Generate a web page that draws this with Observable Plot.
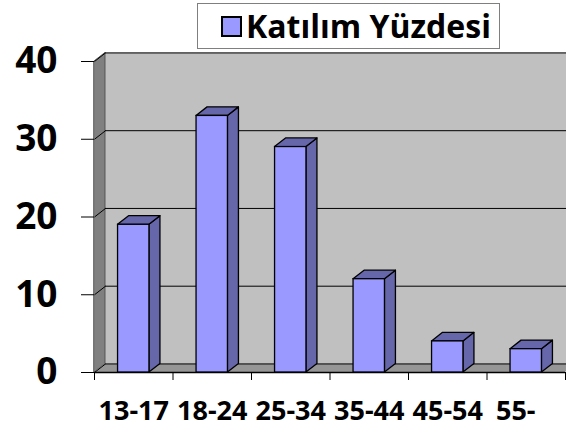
<!DOCTYPE html>
<html><head><meta charset="utf-8">
<script src="https://cdn.jsdelivr.net/npm/d3@7"></script>
<script src="https://cdn.jsdelivr.net/npm/@observablehq/plot@0.6"></script>
<style>
body{margin:0;overflow:hidden;background:#fff;font-family:"Open Sans",sans-serif}
#wrap{position:relative;width:566px;height:427px;overflow:hidden}
#legend{position:absolute;left:197px;top:3px;width:303px;height:46px;background:#fff;border:1px solid #7f7f7f;z-index:2;display:flex;align-items:center;box-sizing:border-box}
#legend .sw{width:17px;height:17px;background:#9999ff;border:2px solid #000;margin-left:23px;flex:none}
#legend .lb{font-weight:bold;font-size:32px;line-height:1;margin-left:4px;color:#000;white-space:nowrap}
</style></head>
<body><div id="wrap"></div>
<script>
const categories = ["13-17", "18-24", "25-34", "35-44", "45-54", "55-   "];
const values = [19, 33, 29, 12, 4, 3];
const yTicks = [0, 10, 20, 30, 40];
const seriesName = "Katılım Yüzdesi";

const N = categories.length;
const YMAX = yTicks[yTicks.length - 1];
const DX = 0.14, DY = 1.1;       // 3D depth (in data units)
const BL = 0.3, BR = 0.7;        // bar extent within band

const bars = categories.map((c, i) => ({c, i, v: values[i]}));
const sides = bars.flatMap(b => [
  {i: b.i, x: b.i + BR, y1: 0, y2: b.v},
  {i: b.i, x: b.i + BR + DX, y1: DY, y2: b.v + DY}
]);
const tops = bars.flatMap(b => [
  {i: b.i, y: b.v, x1: b.i + BL, x2: b.i + BR},
  {i: b.i, y: b.v + DY, x1: b.i + BL + DX, x2: b.i + BR + DX}
]);
const sideWall = [{x: 0, y1: 0, y2: YMAX}, {x: DX, y1: DY, y2: YMAX + DY}];
const floor = [{y: 0, x1: 0, x2: N}, {y: DY, x1: DX, x2: N + DX}];

const barFront = "#9999ff", barDark = "#6666aa";

const chart = Plot.plot({
  width: 566, height: 427,
  marginLeft: 94, marginRight: 1, marginTop: 61, marginBottom: 55,
  x: {type: "linear", domain: [0, N]},
  y: {domain: [0, YMAX]},
  style: {fontFamily: "'Open Sans', sans-serif", color: "#000", background: "transparent"},
  marks: [
    Plot.rect([0], {x1: () => DX, x2: () => N + DX, y1: () => DY, y2: () => YMAX + DY, fill: "#c0c0c0"}),
    Plot.areaY(sideWall, {x: "x", y1: "y1", y2: "y2", fill: "#808080", stroke: "#555", strokeWidth: 1}),
    Plot.areaX(floor, {y: "y", x1: "x1", x2: "x2", fill: "#969696"}),
    Plot.ruleY(yTicks, {y: d => d + DY, x1: () => DX, x2: () => N + DX, stroke: "#000", strokeWidth: 1}),
    Plot.link(yTicks, {x1: () => 0, y1: d => d, x2: () => DX, y2: d => d + DY, stroke: "#000", strokeWidth: 1}),
    Plot.ruleY([0], {x1: () => 0, x2: () => N, stroke: "#000", strokeWidth: 1.5}),
    Plot.areaY(sides, {x: "x", y1: "y1", y2: "y2", z: "i", fill: barDark, stroke: "#000", strokeWidth: 1.3, strokeLinejoin: "round"}),
    Plot.areaX(tops, {y: "y", x1: "x1", x2: "x2", z: "i", fill: barDark, stroke: "#000", strokeWidth: 1.3, strokeLinejoin: "round"}),
    Plot.rect(bars, {x1: d => d.i + BL, x2: d => d.i + BR, y1: () => 0, y2: "v", fill: barFront, stroke: "#000", strokeWidth: 1.3}),
    Plot.axisY({ticks: yTicks, tickSize: 13, tickPadding: 24, fontSize: 37, fontWeight: "bold", label: null, stroke: "#000"}),
    Plot.axisX({ticks: d3.range(N + 1), tickSize: 8, tickFormat: () => "", label: null, stroke: "#000"}),
    Plot.axisX({ticks: d3.range(N).map(i => i + 0.5), tickSize: 0, tickPadding: 28, tickFormat: d => categories[Math.floor(d)], fontSize: 27, fontWeight: "bold", label: null})
  ]
});
const wrap = document.getElementById("wrap");
wrap.appendChild(chart);
const lg = document.createElement("div");
lg.id = "legend";
lg.innerHTML = `<div class="sw"></div><div class="lb"></div>`;
lg.querySelector(".lb").textContent = seriesName;
wrap.appendChild(lg);
</script>
</body></html>
